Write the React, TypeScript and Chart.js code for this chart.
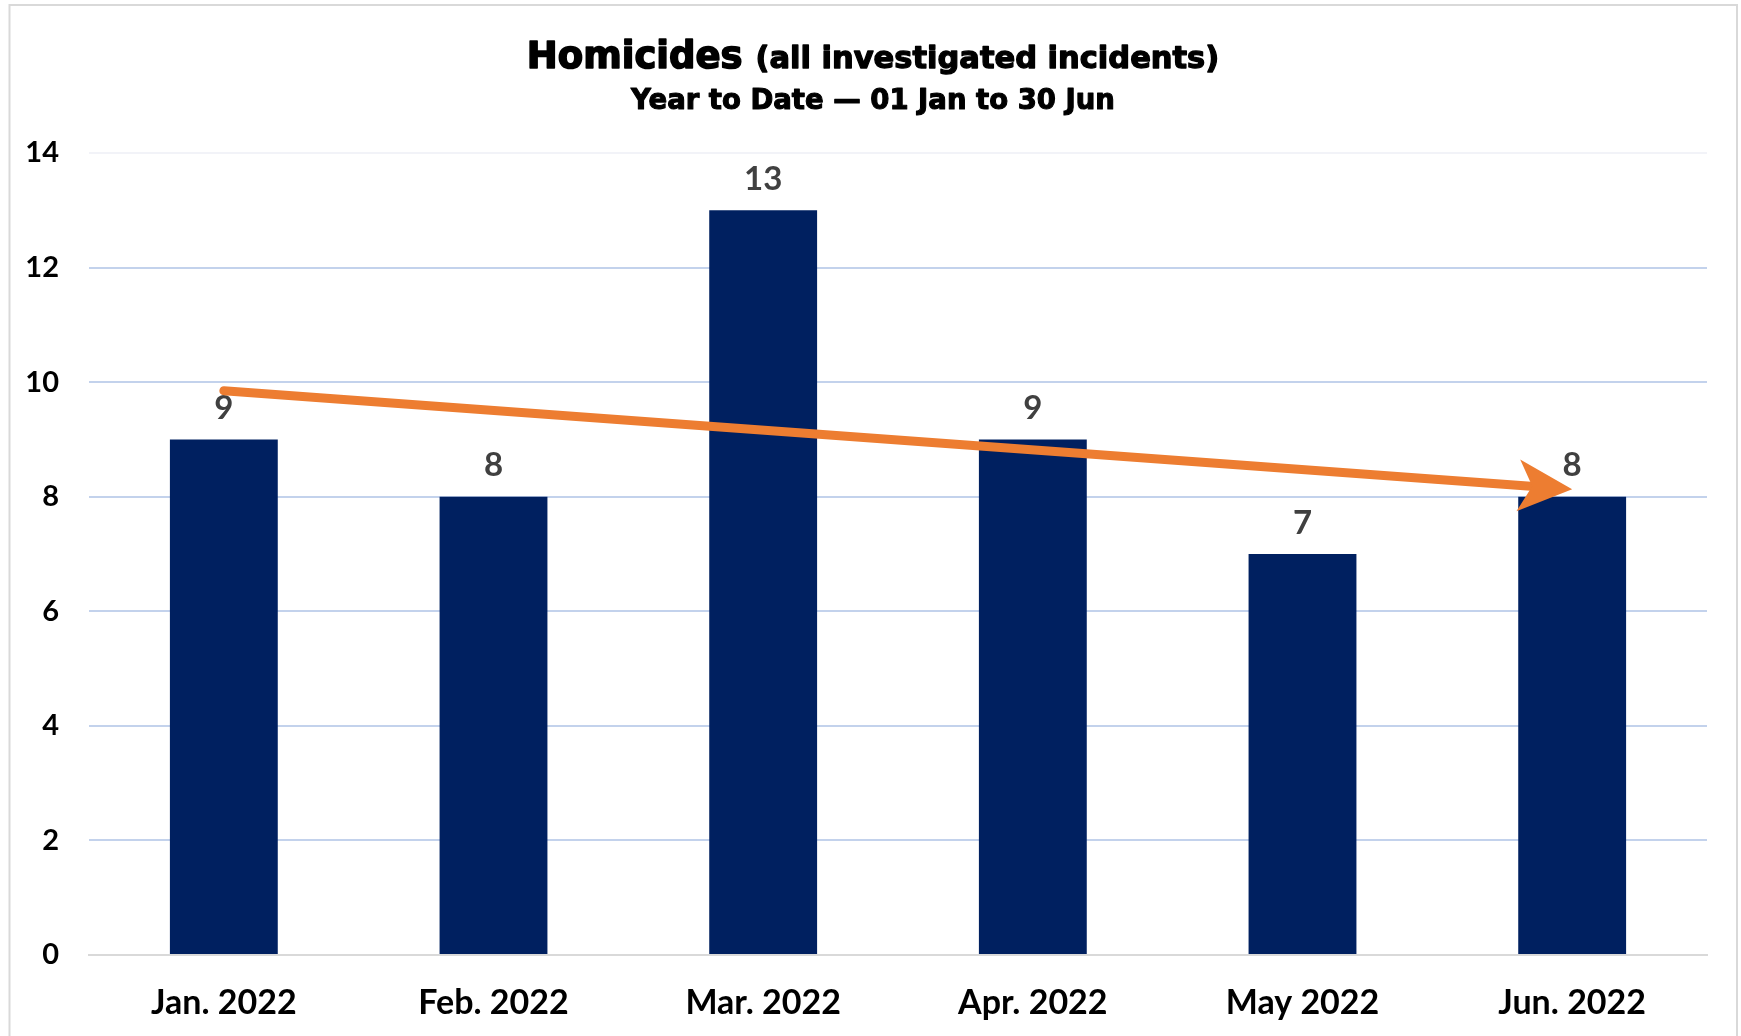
import React, { useEffect, useRef } from "react";
import { Chart, registerables } from "chart.js";

Chart.register(...registerables);

const categories = ["Jan. 2022", "Feb. 2022", "Mar. 2022", "Apr. 2022", "May 2022", "Jun. 2022"];
const homicides = [9, 8, 13, 9, 7, 8];
const yMin = 0;
const yMax = 14;
const yStep = 2;
const titleMain = "Homicides";
const titleParen = "(all investigated incidents)";
const subtitle = "Year to Date \u2014 01 Jan to 30 Jun";
// trend arrow drawn from first to last month
const trendIndex = [0, 5];
const trendValue = [9.85, 8.13];

const W = 1741;
const H = 1036;
const AXIS_FONT = "Lato, 'Open Sans', sans-serif";
const TITLE_FONT = "'DejaVu Sans', 'Liberation Sans', sans-serif";

const framePlugin = {
  id: "frame",
  beforeDraw(chart: any) {
    const ctx = chart.ctx;
    ctx.save();
    ctx.fillStyle = "#ffffff";
    ctx.fillRect(0, 0, chart.width, chart.height);
    ctx.strokeStyle = "#D9D9D9";
    ctx.lineWidth = 2;
    ctx.strokeRect(9.5, 5, 1727.5, 1100);
    ctx.restore();
  },
};

function heavyText(ctx: any, text: string, x: number, y: number, weight: number) {
  ctx.lineWidth = weight;
  ctx.lineJoin = "round";
  ctx.strokeText(text, x, y);
  ctx.fillText(text, x, y);
}

const titlePlugin = {
  id: "twoSizeTitle",
  afterDraw(chart: any) {
    const ctx = chart.ctx;
    ctx.save();
    ctx.fillStyle = "#000000";
    ctx.strokeStyle = "#000000";
    ctx.textBaseline = "alphabetic";
    const f1 = `bold 37px ${TITLE_FONT}`;
    const f2 = `bold 30.5px ${TITLE_FONT}`;
    ctx.font = f1;
    const w1 = ctx.measureText(titleMain + " ").width;
    ctx.font = f2;
    const w2 = ctx.measureText(titleParen).width;
    const cx = 873;
    const x = cx - (w1 + w2) / 2;
    ctx.textAlign = "left";
    ctx.font = f1;
    heavyText(ctx, titleMain + " ", x, 68, 1.6);
    ctx.font = f2;
    heavyText(ctx, titleParen, x + w1, 68, 1.3);
    ctx.font = `bold 27.5px ${TITLE_FONT}`;
    ctx.textAlign = "center";
    heavyText(ctx, subtitle, cx, 109, 1.1);
    ctx.restore();
  },
};

const valueLabelPlugin = {
  id: "valueLabels",
  afterDatasetsDraw(chart: any) {
    const ctx = chart.ctx;
    const meta = chart.getDatasetMeta(0);
    ctx.save();
    ctx.fillStyle = "#404040";
    ctx.font = `bold 33px ${AXIS_FONT}`;
    ctx.textAlign = "center";
    ctx.textBaseline = "middle";
    meta.data.forEach((bar: any, i: number) => {
      ctx.fillText(String(homicides[i]), bar.x, bar.y - 31);
    });
    ctx.restore();
  },
};

const arrowPlugin = {
  id: "trendArrow",
  afterDatasetsDraw(chart: any) {
    const ctx = chart.ctx;
    const xs = chart.scales.x;
    const ys = chart.scales.y;
    const x0 = xs.getPixelForValue(trendIndex[0]);
    const y0 = ys.getPixelForValue(trendValue[0]);
    const x1 = xs.getPixelForValue(trendIndex[1]);
    const y1 = ys.getPixelForValue(trendValue[1]);
    const dx = x1 - x0;
    const dy = y1 - y0;
    const len = Math.hypot(dx, dy);
    const ux = dx / len;
    const uy = dy / len;
    const nx = -uy;
    const ny = ux;
    const headLen = 54;
    const headHalf = 26;
    const notch = 14;
    ctx.save();
    ctx.strokeStyle = "#ED7D31";
    ctx.fillStyle = "#ED7D31";
    ctx.lineWidth = 9;
    ctx.lineCap = "round";
    ctx.beginPath();
    ctx.moveTo(x0, y0);
    ctx.lineTo(x1 - ux * (headLen - notch - 2), y1 - uy * (headLen - notch - 2));
    ctx.stroke();
    ctx.beginPath();
    ctx.moveTo(x1, y1);
    ctx.lineTo(x1 - ux * headLen + nx * headHalf, y1 - uy * headLen + ny * headHalf);
    ctx.lineTo(x1 - ux * (headLen - notch), y1 - uy * (headLen - notch));
    ctx.lineTo(x1 - ux * headLen - nx * headHalf, y1 - uy * headLen - ny * headHalf);
    ctx.closePath();
    ctx.fill();
    ctx.restore();
  },
};

export default function App() {
  const ref = useRef<HTMLCanvasElement | null>(null);
  useEffect(() => {
    if (!ref.current) return;
    const chart = new Chart(ref.current, {
      type: "bar",
      data: {
        labels: categories,
        datasets: [
          {
            label: "Homicides",
            data: homicides,
            backgroundColor: "#002060",
            borderWidth: 0,
            barPercentage: 0.4,
            categoryPercentage: 1.0,
          },
        ],
      },
      options: {
        animation: false,
        responsive: false,
        maintainAspectRatio: false,
        devicePixelRatio: 1,
        layout: { padding: { left: 0, right: 34, top: 153, bottom: 0 } },
        plugins: {
          legend: { display: false },
          title: { display: false },
          tooltip: { enabled: false },
        },
        scales: {
          x: {
            grid: { display: false, drawTicks: false },
            border: { display: true, color: "#D9D9D9", width: 2 },
            ticks: {
              color: "#000000",
              font: { family: AXIS_FONT, size: 34, weight: "bold" },
              padding: 28,
              maxRotation: 0,
              autoSkip: false,
            },
            afterFit(scale: any) {
              scale.height = 81;
            },
          },
          y: {
            min: yMin,
            max: yMax,
            grid: {
              drawTicks: false,
              lineWidth: 2,
              color: (c: any) =>
                c.tick && c.tick.value === yMax ? "#F2F3F8" : c.tick && c.tick.value === 0 ? "#D9D9D9" : "#C3D2EC",
            },
            border: { display: false },
            ticks: {
              stepSize: yStep,
              color: "#000000",
              font: { family: AXIS_FONT, size: 29, weight: "bold" },
              padding: 30,
            },
            afterFit(scale: any) {
              scale.width = 89;
            },
          },
        },
      },
      plugins: [framePlugin, valueLabelPlugin, arrowPlugin, titlePlugin],
    } as any);
    return () => chart.destroy();
  }, []);
  return (
    <div style={{ position: "fixed", left: 0, top: 0, width: W, height: H }}>
      <canvas ref={ref} width={W} height={H} style={{ width: W, height: H, display: "block" }} />
    </div>
  );
}
